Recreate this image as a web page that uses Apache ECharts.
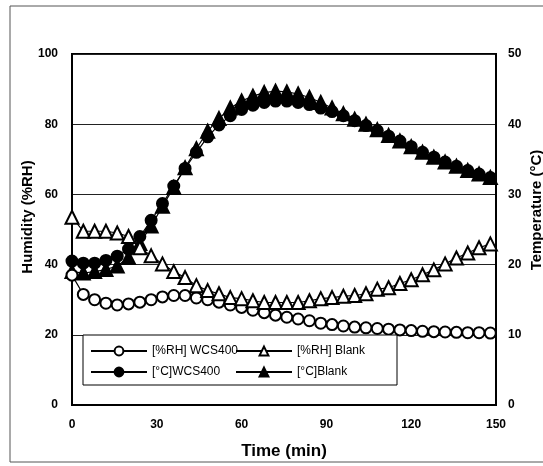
<!DOCTYPE html>
<html>
<head>
<meta charset="utf-8">
<script src="https://cdn.jsdelivr.net/npm/echarts@6/dist/echarts.min.js"></script>
<style>
  html, body { margin: 0; padding: 0; background: #fff; }
  #chart { width: 543px; height: 466px; }
</style>
</head>
<body>
<div id="chart"></div>
<script>
// time in minutes (one reading every 4 min)
var times = [0, 4, 8, 12, 16, 20, 24, 28, 32, 36, 40, 44, 48, 52, 56, 60, 64, 68, 72, 76,
  80, 84, 88, 92, 96, 100, 104, 108, 112, 116, 120, 124, 128, 132, 136, 140, 144, 148]

// humidity, %RH (left axis)
var rhWcs = [37, 31.5, 30, 29, 28.5, 28.8, 29.3, 30, 30.8, 31.2, 31.2, 30.5, 30, 29.3, 28.5, 27.8, 27, 26.3, 25.6, 25,
  24.5, 24, 23.3, 22.9, 22.5, 22.2, 22, 21.8, 21.6, 21.4, 21.2, 21, 20.9, 20.8, 20.7, 20.6, 20.6, 20.5]
var rhBlank = [53.5, 49.5, 49.5, 49.5, 49, 48, 44.8, 42.5, 40.2, 38, 36.3, 34, 32.6, 31.7, 30.6, 30.3, 29.7, 29.2, 29.2, 29.2,
  29.2, 29.7, 30.3, 30.6, 31, 31.2, 31.7, 33, 33.4, 34.6, 35.7, 37.1, 38.5, 40.2, 41.9, 43.3, 44.8, 45.9]

// temperature, °C (right axis)
var tWcs = [20.5, 20.2, 20.2, 20.6, 21.2, 22.2, 24, 26.3, 28.7, 31.2, 33.7, 36, 38.2, 39.9, 41.2, 42.1, 42.7, 43.1, 43.3, 43.3,
  43.1, 42.8, 42.3, 41.8, 41.2, 40.5, 39.8, 39.1, 38.3, 37.6, 36.8, 36, 35.3, 34.6, 34, 33.4, 32.9, 32.4]
var tBlank = [19, 18.8, 19, 19.3, 19.8, 21, 23, 25.5, 28.3, 31, 33.8, 36.5, 39, 40.8, 42.3, 43.3, 44, 44.5, 44.7, 44.6,
  44.3, 43.8, 43.1, 42.3, 41.5, 40.7, 40, 39.2, 38.4, 37.6, 36.8, 36, 35.3, 34.6, 34, 33.4, 32.9, 32.4]

var xTicks = [0, 30, 60, 90, 120, 150]
var names = ['[%RH] WCS400', '[%RH] Blank', '[°C]WCS400', '[°C]Blank']

function pairs(vals) {
  return times.map(function (t, i) { return [t, vals[i]] })
}

var font = 'Arial, "Liberation Sans", sans-serif'

var chart = echarts.init(document.getElementById('chart'))

function lineSeries(name, vals, axis, symbol, filled, z) {
  return {
    name: name,
    type: 'line',
    yAxisIndex: axis,
    data: pairs(vals),
    symbol: symbol,
    symbolSize: symbol === 'triangle' ? 13 : 11,
    showAllSymbol: true,
    z: z,
    lineStyle: { color: '#000', width: 1.2 },
    itemStyle: { color: filled ? '#000' : '#fff', borderColor: '#000', borderWidth: 2 },
    emphasis: { disabled: true },
    animation: false
  }
}

var legendText = { fontSize: 12, color: '#000', fontFamily: font }

var option = {
  backgroundColor: '#fff',
  animation: false,
  textStyle: { fontFamily: font },
  grid: {
    left: 72, right: 47, top: 54, bottom: 61,
    outerBoundsMode: 'none',
    show: true, borderColor: '#000', borderWidth: 2
  },
  legend: [
    {
      data: [names[0], names[2]],
      orient: 'vertical',
      left: 85, top: 340,
      itemWidth: 56, itemHeight: 11, itemGap: 9,
      textStyle: legendText,
      z: 10
    },
    {
      data: [names[1], names[3]],
      orient: 'vertical',
      left: 230, top: 340,
      itemWidth: 56, itemHeight: 11, itemGap: 9,
      textStyle: legendText,
      z: 10
    }
  ],
  graphic: [
    {
      type: 'rect', z: 9,
      shape: { x: 83, y: 335, width: 314, height: 50 },
      style: { fill: '#fff', stroke: '#000', lineWidth: 1 }
    },
    {
      type: 'rect', z: 0,
      shape: { x: 10, y: 6, width: 560, height: 456 },
      style: { fill: 'none', stroke: '#555', lineWidth: 1 }
    },
    {
      type: 'text', z: 5,
      x: 28, y: 217, rotation: Math.PI / 2,
      style: {
        text: 'Humidity (%RH)', font: 'bold 15px ' + font, fill: '#000',
        align: 'center', verticalAlign: 'middle'
      }
    },
    {
      type: 'text', z: 5,
      x: 537, y: 210, rotation: Math.PI / 2,
      style: {
        text: 'Temperature (°C)', font: 'bold 15px ' + font, fill: '#000',
        align: 'center', verticalAlign: 'middle'
      }
    }
  ],
  xAxis: {
    type: 'value',
    min: xTicks[0], max: xTicks[xTicks.length - 1], interval: 30,
    name: 'Time (min)',
    nameLocation: 'middle', nameGap: 38,
    nameTextStyle: { fontSize: 17, fontWeight: 'bold', color: '#000' },
    axisLine: { lineStyle: { color: '#000', width: 2 } },
    axisTick: { show: false },
    axisLabel: { fontSize: 12, fontWeight: 'bold', color: '#000', margin: 14 },
    splitLine: { show: false }
  },
  yAxis: [
    {
      type: 'value', min: 0, max: 100, interval: 20,
      axisLine: { show: true, lineStyle: { color: '#000', width: 2 } },
      axisTick: { show: false },
      axisLabel: { fontSize: 12, fontWeight: 'bold', color: '#000', margin: 14 },
      splitLine: { show: true, lineStyle: { color: '#222', width: 1 } }
    },
    {
      type: 'value', min: 0, max: 50, interval: 10,
      axisLine: { show: true, lineStyle: { color: '#000', width: 2 } },
      axisTick: { show: false },
      axisLabel: { fontSize: 12, fontWeight: 'bold', color: '#000', margin: 12 },
      splitLine: { show: false }
    }
  ],
  series: [
    lineSeries(names[2], tWcs, 1, 'circle', true, 2),
    lineSeries(names[3], tBlank, 1, 'triangle', true, 3),
    lineSeries(names[0], rhWcs, 0, 'circle', false, 4),
    lineSeries(names[1], rhBlank, 0, 'triangle', false, 5)
  ]
}

chart.setOption(option, true)
</script>
</body>
</html>
